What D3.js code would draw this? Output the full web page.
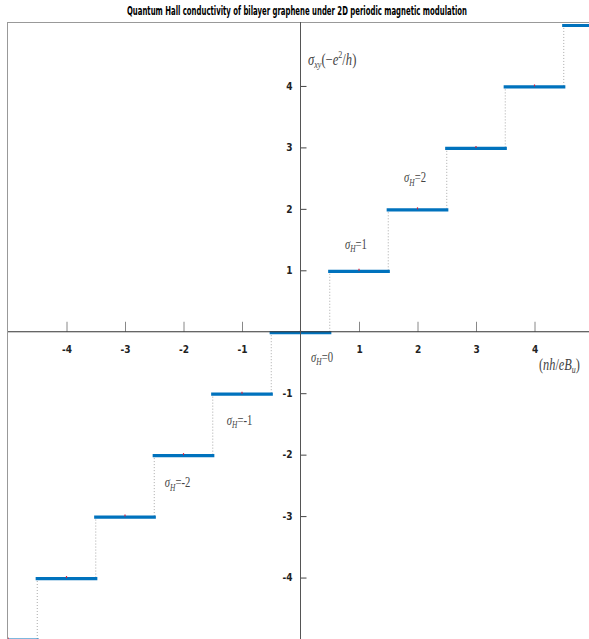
<!DOCTYPE html>
<html>
<head>
<meta charset="utf-8">
<script src="https://cdn.jsdelivr.net/npm/d3@7"></script>
<style>
  body { margin: 0; background: #fff; }
  .tick text { font-family: "DejaVu Sans Condensed", "Liberation Sans Narrow", sans-serif; font-weight: bold; }
  .math { font-family: "Liberation Serif", "DejaVu Serif", serif; font-style: italic; fill: #444; }
</style>
</head>
<body>
<div id="chart"></div>
<script>
// step levels of the Hall conductivity (sigma_H = n)
var levels = [-5, -4, -3, -2, -1, 0, 1, 2, 3, 4, 5];
var xTicks = [-4, -3, -2, -1, 1, 2, 3, 4];
var yTicks = [-4, -3, -2, -1, 1, 2, 3, 4];
// sigma_H annotations: level, x, y (data units)
var noteLevels = [2, 1, 0, -1, -2];
var noteX = [1.77, 0.76, 0.18, -1.26, -2.32];
var noteY = [2.43, 1.35, -0.49, -1.51, -2.53];

var W = 589, H = 639;
var plotL = 8, plotT = 24.5, plotR = 593, plotB = 639;

var svg = d3.select("#chart")
  .append("svg")
    .attr("width", W)
    .attr("height", H);

var x = d3.scaleLinear().domain([-5, 5]).range([plotL, plotR]);
var y = d3.scaleLinear().domain([-5, 5]).range([plotB, plotT]);

svg.append("text")
  .attr("x", 297).attr("y", 15)
  .attr("text-anchor", "middle")
  .attr("textLength", 340)
  .attr("lengthAdjust", "spacingAndGlyphs")
  .style("font-family", "'DejaVu Sans Condensed', sans-serif")
  .style("font-weight", "bold")
  .style("font-size", "11.5px")
  .text("Quantum Hall conductivity of bilayer graphene under 2D periodic magnetic modulation");

svg.append("clipPath").attr("id", "clip")
  .append("rect")
    .attr("x", plotL).attr("y", 22)
    .attr("width", W - plotL).attr("height", H - 22);

// box (only top/left visible)
svg.append("line").attr("x1", plotL).attr("x2", W).attr("y1", 22.5).attr("y2", 22.5)
  .attr("stroke", "#999").attr("stroke-width", 1);
svg.append("line").attr("x1", plotL - 0.5).attr("x2", plotL - 0.5).attr("y1", 22).attr("y2", H)
  .attr("stroke", "#999").attr("stroke-width", 1);

var g = svg.append("g").attr("clip-path", "url(#clip)");

// dotted risers between consecutive levels
g.selectAll("line.riser")
  .data(levels.slice(0, -1))
  .enter().append("line")
    .attr("class", "riser")
    .attr("x1", function(d) { return x(d + 0.5); })
    .attr("x2", function(d) { return x(d + 0.5); })
    .attr("y1", function(d) { return y(d); })
    .attr("y2", function(d) { return y(d + 1); })
    .attr("stroke", "#aaa")
    .attr("stroke-width", 1)
    .attr("stroke-dasharray", "1,2");

// axes through origin
var xAxis = d3.axisTop(x).tickValues(xTicks).tickSize(10).tickFormat(d3.format("d"));
var yAxis = d3.axisRight(y).tickValues(yTicks).tickSize(6).tickFormat(d3.format("d"));

var gx = svg.append("g").attr("transform", "translate(0," + y(0) + ")").call(xAxis);
gx.select(".domain").remove();
gx.selectAll(".tick line").attr("stroke", "#888");
gx.selectAll(".tick text")
  .attr("y", 14).attr("dy", "0.71em")
  .style("font-size", "10px").attr("fill", "#222")
  .text(function(d) { return d < 0 ? "-" + Math.abs(d) : d; });

var gy = svg.append("g").attr("transform", "translate(" + x(0) + ",0)").call(yAxis);
gy.select(".domain").remove();
gy.selectAll(".tick line").attr("stroke", "#444");
gy.selectAll(".tick text")
  .attr("x", -8).attr("text-anchor", "end")
  .style("font-size", "10px").attr("fill", "#222")
  .text(function(d) { return d < 0 ? "-" + Math.abs(d) : d; });

svg.append("line")
  .attr("x1", plotL).attr("x2", W).attr("y1", y(0)).attr("y2", y(0))
  .attr("stroke", "#333").attr("stroke-width", 1);
svg.append("line")
  .attr("x1", x(0)).attr("x2", x(0)).attr("y1", 22).attr("y2", H)
  .attr("stroke", "#555").attr("stroke-width", 1);

// plateaus
g.selectAll("line.step")
  .data(levels)
  .enter().append("line")
    .attr("class", "step")
    .attr("x1", function(d) { return x(d - 0.5); })
    .attr("x2", function(d) { return x(d + 0.5); })
    .attr("y1", function(d) { return y(d) + 1; })
    .attr("y2", function(d) { return y(d) + 1; })
    .attr("stroke", "#0072BD")
    .attr("stroke-width", 3.2)
    .attr("stroke-linecap", "square");

// small red centre markers
g.selectAll("line.mark")
  .data(levels)
  .enter().append("line")
    .attr("class", "mark")
    .attr("x1", function(d) { return x(d); })
    .attr("x2", function(d) { return x(d); })
    .attr("y1", function(d) { return y(d) - 1.5; })
    .attr("y2", function(d) { return y(d) + 0.5; })
    .attr("stroke", "#d4213d")
    .attr("stroke-width", 1.2);

// sigma_H labels (condensed look)
noteLevels.forEach(function(n, i) {
  var t = svg.append("g")
    .attr("transform", "translate(" + x(noteX[i]) + "," + y(noteY[i]) + ") scale(0.82,1.12)")
    .append("text").attr("class", "math")
    .style("font-size", "13px");
  t.append("tspan").text("σ");
  t.append("tspan").attr("dy", 3).style("font-size", "9px").text("H");
  t.append("tspan").attr("dy", -3).style("font-style", "normal").text("=" + (n < 0 ? "-" + Math.abs(n) : n));
});

// axis labels
var yl = svg.append("g").attr("transform", "translate(308,65) scale(0.9,1.12)")
  .append("text").attr("class", "math").style("font-size", "14px");
yl.append("tspan").text("σ");
yl.append("tspan").attr("dy", 3).style("font-size", "9px").text("xy");
yl.append("tspan").attr("dy", -3).style("font-style", "normal").text("(−");
yl.append("tspan").text("e");
yl.append("tspan").attr("dy", -6).style("font-size", "9px").style("font-style", "normal").text("2");
yl.append("tspan").attr("dy", 6).style("font-style", "normal").text("/");
yl.append("tspan").text("h");
yl.append("tspan").style("font-style", "normal").text(")");

var xl = svg.append("g").attr("transform", "translate(539,370) scale(0.88,1.12)")
  .append("text").attr("class", "math").style("font-size", "14px");
xl.append("tspan").style("font-style", "normal").text("(");
xl.append("tspan").text("nh");
xl.append("tspan").style("font-style", "normal").text("/");
xl.append("tspan").text("eB");
xl.append("tspan").attr("dy", 3).style("font-size", "9px").text("u");
xl.append("tspan").attr("dy", -3).style("font-style", "normal").text(")");
</script>
</body>
</html>
